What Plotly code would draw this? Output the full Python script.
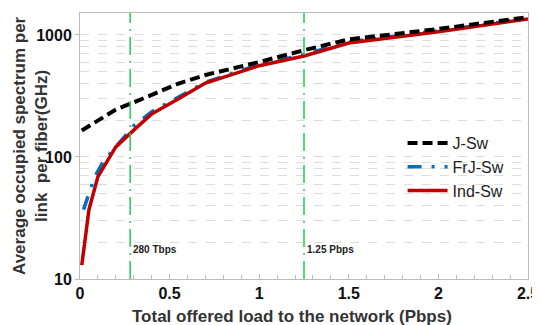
import plotly.graph_objects as go

# data
x_j = [0.01, 0.1, 0.2, 0.3, 0.4, 0.55, 0.7, 1.0, 1.25, 1.5, 2.0, 2.5]
y_j = [165, 200, 245, 280, 322, 400, 470, 600, 750, 920, 1120, 1400]

x_frj = [0.02, 0.08, 0.13, 0.2, 0.3, 0.4, 0.55, 0.7, 1.0, 1.25, 1.5, 2.0, 2.5]
y_frj = [37, 68, 92, 121, 180, 235, 310, 410, 570, 690, 880, 1080, 1370]

x_ind = [0.01, 0.05, 0.1, 0.2, 0.3, 0.4, 0.55, 0.7, 1.0, 1.25, 1.5, 2.0, 2.5]
y_ind = [13, 37, 69, 121, 166, 225, 300, 404, 560, 673, 860, 1064, 1355]

markers_x = [0.28, 1.25]
marker_labels = ["280 Tbps", "1.25 Pbps"]

x_ticks = [0, 0.5, 1, 1.5, 2, 2.5]
x_ticklabels = ["0", "0.5", "1", "1.5", "2", "2.5"]
y_ticks = [10, 100, 1000]
y_ticklabels = ["10", "100", "1000"]

FONT = "Arial, Liberation Sans, sans-serif"

fig = go.Figure()
fig.add_trace(go.Scatter(x=x_frj, y=y_frj, mode="lines", name="FrJ-Sw", legendrank=2,
                         line=dict(color="#0070C0", width=3.5, dash="14px,10px,3px,10px")))
fig.add_trace(go.Scatter(x=x_ind, y=y_ind, mode="lines", name="Ind-Sw", legendrank=3,
                         line=dict(color="#C00000", width=3.5)))
fig.add_trace(go.Scatter(x=x_j, y=y_j, mode="lines", name="J-Sw", legendrank=1,
                         line=dict(color="black", width=4, dash="10px,5px")))

for xv, lab in zip(markers_x, marker_labels):
    fig.add_shape(type="line", xref="x", yref="paper", x0=xv, x1=xv, y0=0, y1=1,
                  line=dict(color="#22CC55", width=1.5, dash="18px,6px,2px,6px"))
    fig.add_annotation(x=xv, y=1.24, xref="x", yref="y", text="<b>" + lab + "</b>",
                       showarrow=False, xanchor="left", xshift=1,
                       font=dict(family=FONT, size=10, color="#222222"))

# axis titles
fig.add_annotation(xref="paper", yref="paper", x=-50 / 448, y=0.5, textangle=-90,
                   text="<b>Average occupied spectrum per<br>link  per fiber(GHz)</b>",
                   showarrow=False, xanchor="center", yanchor="middle",
                   font=dict(size=17, family=FONT, color="#333333"))
fig.add_annotation(xref="paper", yref="paper", x=-12 / 448 + 0.5, y=-37 / 266,
                   text="<b>Total offered load to the network (Pbps)</b>",
                   showarrow=False, xanchor="center", yanchor="middle",
                   font=dict(size=17, family=FONT, color="#333333"))

fig.update_layout(
    width=540, height=325,
    margin=dict(l=72, r=20, t=5, b=54),
    paper_bgcolor="white", plot_bgcolor="white",
    font=dict(family=FONT, color="#222222"),
    showlegend=True,
    legend=dict(x=0.72, y=0.575, xanchor="left", yanchor="top",
                bgcolor="rgba(0,0,0,0)",
                font=dict(size=16, family=FONT, color="#222222"),
                itemwidth=40, tracegroupgap=0),
    xaxis=dict(range=[0, 2.5], tickvals=x_ticks,
               ticktext=["<b>" + t + "</b>" for t in x_ticklabels],
               tickfont=dict(size=16, family=FONT, color="#111111"),
               showgrid=False, zeroline=False, automargin=False,
               showline=True, linecolor="#BBBBBB", mirror=True,
               ticks="inside", ticklen=5, tickcolor="#BBBBBB",
               minor=dict(dtick=0.1, ticks="inside", ticklen=4, tickcolor="#BBBBBB")),
    yaxis=dict(type="log", range=[1, 3.18], tickvals=y_ticks,
               ticktext=["<b>" + t + "</b>" for t in y_ticklabels],
               tickfont=dict(size=16, family=FONT, color="#111111"),
               showgrid=True, gridcolor="#DDDDDD", griddash="dash", gridwidth=1,
               showline=True, linecolor="#BBBBBB", mirror=True, automargin=False,
               ticks="outside", ticklen=4, tickcolor="#BBBBBB",
               minor=dict(tickvals=[20, 30, 40, 50, 60, 70, 80, 90,
                                    200, 300, 400, 500, 600, 700, 800, 900],
                          showgrid=True, gridcolor="#DDDDDD", griddash="dash")),
)

fig.write_html("out.html")
